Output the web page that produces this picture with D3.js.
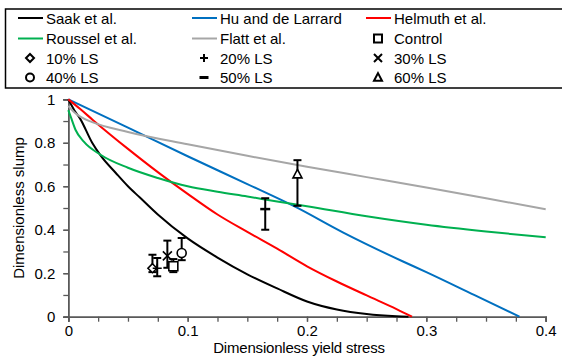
<!DOCTYPE html>
<html>
<head>
<meta charset="utf-8">
<script src="https://cdn.jsdelivr.net/npm/d3@7"></script>
<style>
  body { margin: 0; background: #fff; }
  text { font-family: "Liberation Sans", Arial, sans-serif; }
</style>
</head>
<body>
<svg width="562" height="359"></svg>
<script>
// model curves (x = dimensionless yield stress, y = dimensionless slump)
const saakX = [0, 0.005, 0.01, 0.02, 0.027, 0.04, 0.05, 0.06, 0.075, 0.1, 0.125, 0.15, 0.175, 0.2, 0.225, 0.25, 0.275, 0.285];
const saakY = [1, 0.95, 0.91, 0.8, 0.742, 0.66, 0.6, 0.548, 0.47, 0.36, 0.272, 0.195, 0.13, 0.07, 0.033, 0.012, 0.002, 0];
const huX = [0, 0.05, 0.1, 0.15, 0.19, 0.23, 0.28, 0.3, 0.34, 0.378];
const huY = [1, 0.87, 0.738, 0.61, 0.506, 0.388, 0.255, 0.205, 0.1, 0];
const helmX = [0, 0.01, 0.021, 0.05, 0.075, 0.1, 0.125, 0.15, 0.175, 0.2, 0.225, 0.25, 0.275, 0.288];
const helmY = [1, 0.955, 0.903, 0.772, 0.665, 0.565, 0.47, 0.39, 0.313, 0.232, 0.162, 0.098, 0.035, 0];
const rouX = [0, 0.002, 0.006, 0.013, 0.027, 0.05, 0.075, 0.1, 0.125, 0.15, 0.175, 0.2, 0.25, 0.3, 0.35, 0.4];
const rouY = [0.95, 0.92, 0.86, 0.805, 0.745, 0.685, 0.638, 0.6, 0.575, 0.553, 0.53, 0.508, 0.462, 0.423, 0.392, 0.365];
const flattX = [0, 0.005, 0.01, 0.02, 0.05, 0.1, 0.15, 0.2, 0.25, 0.3, 0.35, 0.4];
const flattY = [0.97, 0.94, 0.92, 0.895, 0.85, 0.793, 0.74, 0.69, 0.642, 0.594, 0.545, 0.494];

// measured mixes
const mixNames = ["Control", "10% LS", "20% LS", "30% LS", "40% LS", "50% LS", "60% LS"];
const mixX = [0.088, 0.0705, 0.0745, 0.083, 0.095, 0.165, 0.192];
const mixY = [0.232, 0.223, 0.223, 0.28, 0.293, 0.495, 0.655];
const mixLow = [0.205, 0.205, 0.186, 0.225, 0.26, 0.40, 0.51];
const mixHigh = [0.265, 0.285, 0.27, 0.35, 0.362, 0.545, 0.72];
const mixShape = ["square", "diamond", "plus", "cross", "circle", "minus", "triangle"];

const xTicks = [0, 0.1, 0.2, 0.3, 0.4];
const yTicks = [0, 0.2, 0.4, 0.6, 0.8, 1];

const curves = [
  { name: "Saak et al.", xs: saakX, ys: saakY, color: "#000000" },
  { name: "Hu and de Larrard", xs: huX, ys: huY, color: "#0070C0" },
  { name: "Helmuth et al.", xs: helmX, ys: helmY, color: "#FF0000" },
  { name: "Roussel et al.", xs: rouX, ys: rouY, color: "#00B050" },
  { name: "Flatt et al.", xs: flattX, ys: flattY, color: "#A6A6A6" }
];

const svg = d3.select("svg");
const pLeft = 68.3, pRight = 545.7, pTop = 99.3, pBottom = 316.7;

const x = d3.scaleLinear().domain([0, 0.4]).range([pLeft, pRight]);
const y = d3.scaleLinear().domain([0, 1]).range([pBottom, pTop]);

// marker path centred on 0,0
function shapePath(s, r) {
  if (s === "square") return `M${-r},${-r}H${r}V${r}H${-r}Z`;
  if (s === "diamond") return `M0,${-r}L${r},0L0,${r}L${-r},0Z`;
  if (s === "plus") return `M${-r},0H${r}M0,${-r}V${r}`;
  if (s === "cross") return `M${-r},${-r}L${r},${r}M${r},${-r}L${-r},${r}`;
  if (s === "minus") return `M${-r},0H${r}`;
  if (s === "triangle") return `M0,${-r * 1.1}L${r},${r * 0.8}L${-r},${r * 0.8}Z`;
  if (s === "circle") return `M${-r},0A${r},${r} 0 1,0 ${r},0A${r},${r} 0 1,0 ${-r},0Z`;
}

// axes
const axisColor = "#595959";
const xMinor = svg.append("g").attr("transform", `translate(0,${pBottom})`)
  .call(d3.axisBottom(x).tickValues(d3.range(0, 0.4001, 0.025)).tickSize(5).tickFormat(""));
const xMajor = svg.append("g").attr("transform", `translate(0,${pBottom})`)
  .call(d3.axisBottom(x).tickValues(xTicks).tickSize(5).tickPadding(4).tickFormat(d => d === 0 ? "0" : d3.format(".1f")(d)));
const yMinor = svg.append("g").attr("transform", `translate(${pLeft},0)`)
  .call(d3.axisLeft(y).tickValues(d3.range(0, 1.001, 0.1)).tickSize(5).tickFormat(""));
const yMajor = svg.append("g").attr("transform", `translate(${pLeft},0)`)
  .call(d3.axisLeft(y).tickValues(yTicks).tickSize(5).tickPadding(8).tickFormat(d => d === 0 || d === 1 ? String(d) : d3.format(".1f")(d)));

[xMinor, xMajor, yMinor, yMajor].forEach(g => {
  g.select(".domain").attr("stroke", axisColor).attr("stroke-width", 1.5);
  g.selectAll(".tick line").attr("stroke", axisColor).attr("stroke-width", 1.3);
  g.selectAll(".tick text").attr("fill", "#000").style("font-size", "15px")
    .style("font-family", "'Liberation Sans', Arial, sans-serif");
});

svg.append("text").attr("x", 299).attr("y", 353).attr("text-anchor", "middle")
  .style("font-size", "15px").attr("letter-spacing", "-0.2").text("Dimensionless yield stress");
svg.append("text").attr("transform", `translate(24,${(pTop + pBottom) / 2}) rotate(-90)`)
  .attr("text-anchor", "middle").style("font-size", "15px").text("Dimensionless slump");

// curves
const line = d3.line().x(d => x(d[0])).y(d => y(d[1])).curve(d3.curveMonotoneX);
svg.append("g").selectAll("path").data(curves).enter().append("path")
  .attr("d", c => line(c.xs.map((v, i) => [v, c.ys[i]])))
  .attr("fill", "none").attr("stroke", c => c.color).attr("stroke-width", 2);

// error bars + markers
const mixes = mixNames.map((n, i) => ({ name: n, x: mixX[i], y: mixY[i], lo: mixLow[i], hi: mixHigh[i], shape: mixShape[i] }));
const eb = svg.append("g").attr("stroke", "#000").attr("stroke-width", 2).attr("fill", "none");
mixes.forEach(m => {
  const cx = x(m.x);
  eb.append("line").attr("x1", cx).attr("x2", cx).attr("y1", y(m.lo)).attr("y2", y(m.hi));
  eb.append("line").attr("x1", cx - 4).attr("x2", cx + 4).attr("y1", y(m.lo)).attr("y2", y(m.lo));
  eb.append("line").attr("x1", cx - 4).attr("x2", cx + 4).attr("y1", y(m.hi)).attr("y2", y(m.hi));
});
svg.append("g").selectAll("path").data(mixes).enter().append("path")
  .attr("transform", m => `translate(${x(m.x)},${y(m.y)})`)
  .attr("d", m => shapePath(m.shape, m.shape === "minus" ? 5 : 4.5))
  .attr("fill", m => (m.shape === "plus" || m.shape === "cross" || m.shape === "minus") ? "none" : "#fff")
  .attr("stroke", "#000").attr("stroke-width", m => m.shape === "minus" ? 2.5 : 1.6);

// legend
svg.append("rect").attr("x", 5.5).attr("y", 9).attr("width", 560).attr("height", 79)
  .attr("fill", "none").attr("stroke", "#000").attr("stroke-width", 1.5);

const colX = [18, 192, 366];
const rowY = [18, 38.5, 58, 77.5];
const legendItems = curves.map(c => ({ type: "line", name: c.name, color: c.color }))
  .concat(mixNames.map((n, i) => ({ type: "marker", name: n, shape: mixShape[i] })));
const leg = svg.append("g");
legendItems.forEach((it, i) => {
  const cx = colX[i % 3], cy = rowY[Math.floor(i / 3)];
  if (it.type === "line") {
    leg.append("line").attr("x1", cx).attr("x2", cx + 25).attr("y1", cy).attr("y2", cy)
      .attr("stroke", it.color).attr("stroke-width", 2);
    leg.append("text").attr("x", cx + 28).attr("y", cy + 5.5).style("font-size", "15px").text(it.name);
  } else {
    const mx = cx + 12;
    const open = it.shape === "plus" || it.shape === "cross" || it.shape === "minus";
    leg.append("path").attr("transform", `translate(${mx},${cy})`)
      .attr("d", shapePath(it.shape, it.shape === "minus" ? 4.5 : 4))
      .attr("fill", open ? "none" : "#fff").attr("stroke", "#000")
      .attr("stroke-width", it.shape === "minus" ? 3 : 2);
    leg.append("text").attr("x", cx + 28).attr("y", cy + 5.5).style("font-size", "15px").text(it.name);
  }
});
</script>
</body>
</html>
